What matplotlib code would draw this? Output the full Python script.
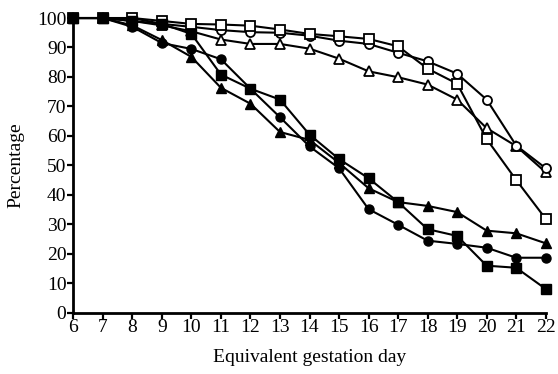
import matplotlib
matplotlib.use("Agg")
import matplotlib.pyplot as plt

plt.rcParams['font.family'] = ['Liberation Serif', 'DejaVu Serif']

days = list(range(6, 23))

open_circle = [100, 100, 100, 98, 97, 95.9, 95.2, 95, 94, 92.3, 91.2, 88.2, 85.3, 81.1, 72.3, 56.7, 49]
open_square = [100, 100, 100, 99, 98, 97.8, 97.4, 96.1, 94.6, 93.8, 92.9, 90.4, 82.8, 77.7, 58.9, 45, 31.8]
open_triangle = [100, 100, 99, 97.5, 95.5, 92.7, 91.2, 91.2, 89.6, 86.2, 81.9, 79.9, 77.4, 72.3, 62.6, 56.5, 47.6]
filled_circle = [100, 100, 97, 91.5, 89.5, 86, 76, 66.3, 56.4, 49, 35.1, 29.8, 24.4, 23.3, 22, 18.6, 18.6]
filled_square = [100, 100, 99, 98, 94.6, 80.8, 76, 72.3, 60.4, 52.1, 45.6, 37.5, 28.3, 26, 15.9, 15.2, 8]
filled_triangle = [100, 100, 97.5, 92.5, 86.8, 76.3, 70.9, 61.3, 58.6, 50.8, 42.2, 37.5, 36.2, 34.1, 27.8, 26.9, 23.5]

fig = plt.figure(figsize=(5.58, 3.74), dpi=100)
ax = fig.add_axes([0.1314, 0.1644, 0.8466, 0.7874])

lw = 1.5
ms = 6.5
# open symbols
ax.plot(days, open_triangle, '-^', color='black', lw=lw, ms=ms, mfc='white', mec='black', mew=1.3, clip_on=False)
ax.plot(days, open_circle, '-o', color='black', lw=lw, ms=ms, mfc='white', mec='black', mew=1.3, clip_on=False)
ax.plot(days, open_square, '-s', color='black', lw=lw, ms=ms, mfc='white', mec='black', mew=1.3, clip_on=False)
# filled symbols
ax.plot(days, filled_triangle, '-^', color='black', lw=lw, ms=ms, clip_on=False)
ax.plot(days, filled_circle, '-o', color='black', lw=lw, ms=ms, clip_on=False)
ax.plot(days, filled_square, '-s', color='black', lw=lw, ms=ms, clip_on=False)

ax.set_xlim(6, 22)
ax.set_ylim(0, 100)
ax.set_xticks(days)
ax.set_yticks(range(0, 101, 10))
ax.spines['top'].set_visible(False)
ax.spines['right'].set_visible(False)
ax.spines['left'].set_linewidth(2)
ax.spines['bottom'].set_linewidth(2)
ax.tick_params(direction='out', length=4, width=1.6, labelsize=14, pad=1)

ax.set_xlabel('Equivalent gestation day', fontsize=14, labelpad=9)
ax.set_ylabel('Percentage', fontsize=14, labelpad=9)

plt.savefig('out.png', dpi=100)
